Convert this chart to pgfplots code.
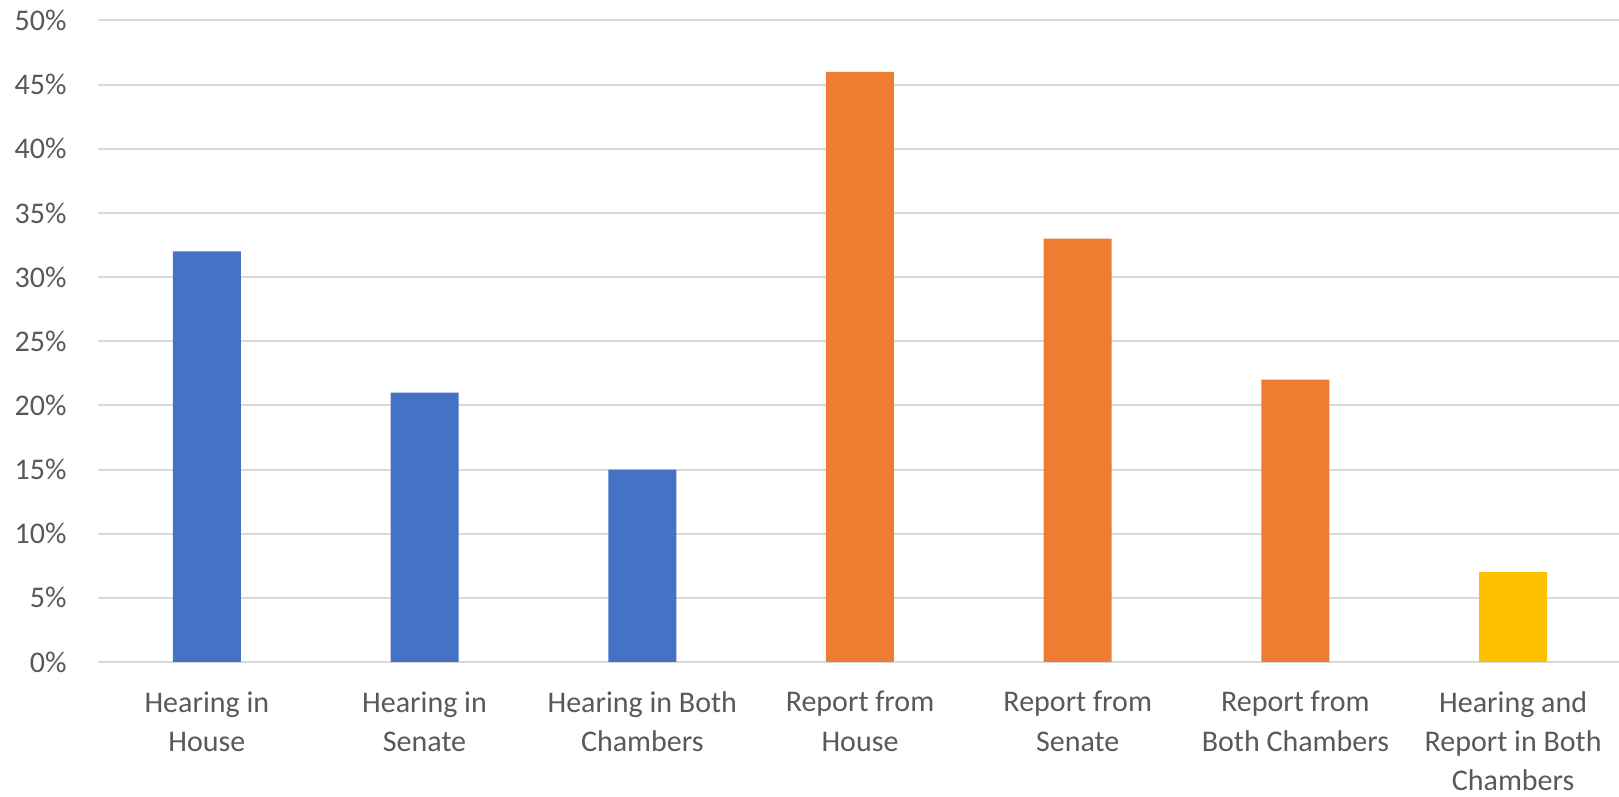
\documentclass[border=0pt]{standalone}
\usepackage{fontspec}
\setmainfont{Carlito}
\usepackage{pgfplots}
\pgfplotsset{compat=1.18}

\definecolor{xlblue}{HTML}{4472C4}
\definecolor{xlorange}{HTML}{ED7D31}
\definecolor{xlyellow}{HTML}{FFC000}
\definecolor{xlgrid}{HTML}{D9D9D9}
\definecolor{xltext}{HTML}{595959}

\begin{document}
\begin{tikzpicture}
    % 1 px of the reference = 0.5pt
    \useasboundingbox (-49pt,-67.5pt) rectangle (760.5pt,331pt);
    \begin{axis}[
        scale only axis,
        width = 762pt, height = 320.75pt,
        xmin = -0.5, xmax = 6.5,
        ymin = 0, ymax = 50,
        ybar, bar width = 34pt, bar shift = 0pt,
        axis line style = {draw = none},
        ymajorgrids,
        grid style = {xlgrid, line width = 1pt},
        major tick length = 0pt,
        ytick = {0,5,...,50},
        yticklabels = {0\%,5\%,10\%,15\%,20\%,25\%,30\%,35\%,40\%,45\%,50\%},
        xtick = {0,...,6},
        xticklabels = {
            Hearing in\\House,
            Hearing in\\Senate,
            Hearing in Both\\Chambers,
            Report from\\House,
            Report from\\Senate,
            Report from\\Both Chambers,
            Hearing and\\Report in Both\\Chambers
        },
        tick label style = {font = \fontsize{15}{19.6}\selectfont, text = xltext, inner sep = 0pt},
        yticklabel style = {anchor = east, xshift = -15.5pt},
        xticklabel style = {anchor = north, align = center, yshift = -14.5pt},
    ]
    \addplot[fill = xlblue, draw = none] coordinates {(0,32) (1,21) (2,15)};
    \addplot[fill = xlorange, draw = none] coordinates {(3,46) (4,33) (5,22)};
    \addplot[fill = xlyellow, draw = none] coordinates {(6,7)};
    \end{axis}
\end{tikzpicture}
\end{document}
